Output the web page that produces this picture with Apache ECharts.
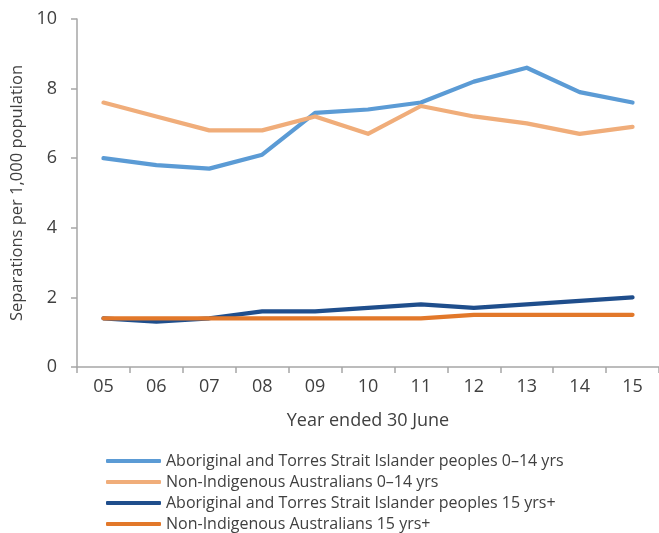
<!DOCTYPE html>
<html><head><meta charset="utf-8">
<script src="https://cdn.jsdelivr.net/npm/echarts@6/dist/echarts.min.js"></script>
<style>html,body{margin:0;padding:0;background:#fff}#c{width:659px;height:533px}</style>
</head><body><div id="c"></div>
<script>
const years = ['05','06','07','08','09','10','11','12','13','14','15'];
const indig014 = [6.0,5.8,5.7,6.1,7.3,7.4,7.6,8.2,8.6,7.9,7.6];
const nonIndig014 = [7.6,7.2,6.8,6.8,7.2,6.7,7.5,7.2,7.0,6.7,6.9];
const indig15 = [1.4,1.3,1.4,1.6,1.6,1.7,1.8,1.7,1.8,1.9,2.0];
const nonIndig15 = [1.4,1.4,1.4,1.4,1.4,1.4,1.4,1.5,1.5,1.5,1.5];
const names = ['Aboriginal and Torres Strait Islander peoples 0\u201314 yrs','Non-Indigenous Australians 0\u201314 yrs','Aboriginal and Torres Strait Islander peoples 15 yrs+','Non-Indigenous Australians 15 yrs+'];
const colors = ['#5B9BD5','#F0AD7A','#1F4E8C','#E2782A'];
const font = '"Open Sans", sans-serif';
const txt = '#404040';
const chart = echarts.init(document.getElementById('c'));
const mk = (n, d, i) => ({name:n, type:'line', data:d, symbol:'none', smooth:false,
  lineStyle:{width:4.2, color:colors[i], cap:'round', join:'round'}, itemStyle:{color:colors[i]}, z: 2+i});
chart.setOption({
  animation:false,
  color: colors,
  grid:{left:77, right:-1, top:19, bottom:166, containLabel:false},
  xAxis:{type:'category', data:years, boundaryGap:true,
    name:'Year ended 30 June', nameLocation:'middle', nameGap:45,
    nameTextStyle:{fontFamily:font, fontSize:18, color:txt},
    axisLine:{lineStyle:{color:'#A6A6A6', width:1.5}},
    axisTick:{show:true, length:6, lineStyle:{color:'#A6A6A6', width:1.5}},
    axisLabel:{fontFamily:font, fontSize:18, color:txt, margin:11}},
  yAxis:{type:'value', min:0, max:10, interval:2,
    name:'Separations per 1,000 population', nameLocation:'middle', nameGap:51,
    nameTextStyle:{fontFamily:font, fontSize:16.5, color:txt},
    axisLine:{show:true, lineStyle:{color:'#A6A6A6', width:1.5}},
    axisTick:{show:true, length:6, lineStyle:{color:'#A6A6A6', width:1.5}},
    splitLine:{show:false},
    axisLabel:{fontFamily:font, fontSize:18, color:txt, margin:20}},
  legend:{orient:'vertical', left:106, top:452, height:81, padding:0, itemWidth:55, itemHeight:4, itemGap:3,
    icon:'roundRect',
    data:names,
    textStyle:{fontFamily:font, fontSize:16, color:txt, lineHeight:18}},
  series:[mk(names[0],indig014,0), mk(names[1],nonIndig014,1), mk(names[2],indig15,2), mk(names[3],nonIndig15,3)]
});
</script></body></html>
